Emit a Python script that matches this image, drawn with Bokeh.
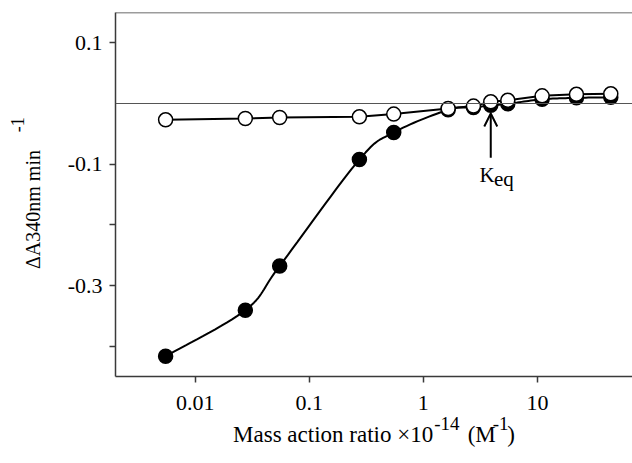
import math
from bokeh.plotting import figure
from bokeh.models import (Range1d, FixedTicker, Label, Span, Arrow, OpenHead,
                          LinearAxis, LogAxis)
from bokeh.embed import file_html
from bokeh.resources import INLINE

# ---- data ----
ratio = [0.0055, 0.0275, 0.055, 0.275, 0.55, 1.65, 2.75, 3.9, 5.5, 11.0, 22.0, 44.0]
filled_rate = [-0.4165, -0.3407, -0.2677, -0.0923, -0.0478, -0.0104, -0.0066,
               -0.0030, -0.0005, 0.0069, 0.0093, 0.0102]
open_rate = [-0.0269, -0.0247, -0.0231, -0.0220, -0.0175, -0.0083, -0.0043,
             0.0028, 0.0052, 0.0126, 0.0151, 0.0159]
keq_ratio = 3.9
x_ticks = [0.01, 0.1, 1, 10]
x_tick_labels = ["0.01", "0.1", "1", "10"]
y_ticks = [0.1, -0.1, -0.3]
y_tick_labels = ["0.1", "-0.1", "-0.3"]
y_minor_ticks = [-0.2, -0.4]

NB = "\u00a0"
x_title_main = "Mass action ratio \u00d710" + NB * 6 + "(M" + NB * 2 + ")"
x_title_sup = NB * 41 + "-14" + NB * 7 + "-1"
y_title_main = "\u0394A340nm min" + NB * 6
y_title_sup = NB * 31 + "-1"

FONT = "Liberation Serif"
W, H = 632, 463
FL, FT, FB = 115, 12, 376   # frame left / top / bottom in px


def catmull(xs, ys, n=16):
    lx = [math.log10(v) for v in xs]
    P = list(zip(lx, ys))
    P = [P[0]] + P + [P[-1]]
    ox, oy = [], []
    for i in range(1, len(P) - 2):
        p0, p1, p2, p3 = P[i - 1], P[i], P[i + 1], P[i + 2]
        for k in range(n):
            t = k / n
            t2, t3 = t * t, t * t * t
            vals = []
            for d in range(2):
                vals.append(0.5 * (2 * p1[d] + (-p0[d] + p2[d]) * t
                                   + (2 * p0[d] - 5 * p1[d] + 4 * p2[d] - p3[d]) * t2
                                   + (-p0[d] + 3 * p1[d] - 3 * p2[d] + p3[d]) * t3))
            ox.append(10 ** vals[0])
            oy.append(vals[1])
    ox.append(10 ** P[-2][0])
    oy.append(P[-2][1])
    return ox, oy


p = figure(width=W, height=H, x_axis_type="log",
           x_range=Range1d(0.002, 68.2), y_range=Range1d(-0.45, 0.15),
           output_backend="svg", toolbar_location=None,
           min_border_left=FL, min_border_right=0, min_border_top=FT,
           min_border_bottom=H - FB)
p.outline_line_color = None
p.grid.visible = False
p.background_fill_color = "white"
p.border_fill_color = "white"


def style_label(ax, size):
    ax.axis_label_text_font = FONT
    ax.axis_label_text_font_size = f"{size}px"
    ax.axis_label_text_font_style = "normal"
    ax.axis_label_text_color = "black"


for ax in (p.xaxis[0], p.yaxis[0]):
    ax.axis_line_color = "#3a3a3a"
    ax.axis_line_width = 1.5
    ax.major_tick_line_color = "#3a3a3a"
    ax.major_tick_line_width = 1.5
    ax.major_tick_out = 6
    ax.major_tick_in = 0
    ax.minor_tick_line_color = "#3a3a3a"
    ax.minor_tick_line_width = 1.5
    ax.minor_tick_out = 6
    ax.minor_tick_in = 0
    ax.major_label_text_font = FONT
    ax.major_label_text_font_size = "22px"
    ax.major_label_text_color = "black"

p.xaxis.ticker = FixedTicker(ticks=x_ticks, minor_ticks=[])
p.xaxis.major_label_overrides = {t: s for t, s in zip(x_ticks, x_tick_labels)}
p.xaxis.major_label_standoff = 13
p.xaxis.axis_label = x_title_sup
p.xaxis.axis_label_standoff = 0
style_label(p.xaxis[0], 19)

p.yaxis.ticker = FixedTicker(ticks=y_ticks, minor_ticks=y_minor_ticks)
p.yaxis.major_label_overrides = {t: s for t, s in zip(y_ticks, y_tick_labels)}
p.yaxis.major_label_standoff = 7
p.yaxis.axis_label = y_title_main
p.yaxis.axis_label_standoff = 21
style_label(p.yaxis[0], 20)


def text_axis(cls, label, size, standoff):
    ax = cls(ticker=FixedTicker(ticks=[], minor_ticks=[]))
    ax.axis_line_color = None
    ax.major_tick_line_color = None
    ax.minor_tick_line_color = None
    ax.major_tick_out = 0
    ax.minor_tick_out = 0
    ax.major_label_standoff = 0
    ax.axis_label = label
    ax.axis_label_standoff = standoff
    style_label(ax, size)
    return ax


p.add_layout(text_axis(LogAxis, x_title_main, 23, -15), "below")
p.add_layout(text_axis(LinearAxis, y_title_sup, 18, -9), "left")

# top border and zero line
p.add_layout(Span(location=0.15, dimension="width", line_color="#3a3a3a", line_width=1.5))
p.add_layout(Span(location=0.0, dimension="width", line_color="#555555", line_width=1))

# lines
cx, cy = catmull(ratio, filled_rate)
p.line(cx, cy, line_color="black", line_width=2)
p.line(ratio, open_rate, line_color="black", line_width=2)

# markers
p.scatter(ratio, filled_rate, size=14, marker="circle", fill_color="black",
          line_color="black", line_width=1.5)
p.scatter(ratio, open_rate, size=14, marker="circle", fill_color="white",
          line_color="black", line_width=1.5)

# Keq arrow
p.add_layout(Arrow(end=OpenHead(size=13, line_width=2, line_color="black"),
                   x_start=keq_ratio, y_start=-0.0896, x_end=keq_ratio, y_end=-0.0165,
                   line_width=2, line_color="black"))


def lab(text, px, py, size):
    p.add_layout(Label(x=px - FL, y=FB - py, x_units="screen", y_units="screen",
                       text=text, text_font=FONT, text_font_size=f"{size}px",
                       text_color="black", text_align="left",
                       text_baseline="alphabetic"))


lab("K", 479, 174.5, 21)
lab("eq", 493.5, 178, 21)

open("out.html", "w").write(file_html(p, INLINE))
